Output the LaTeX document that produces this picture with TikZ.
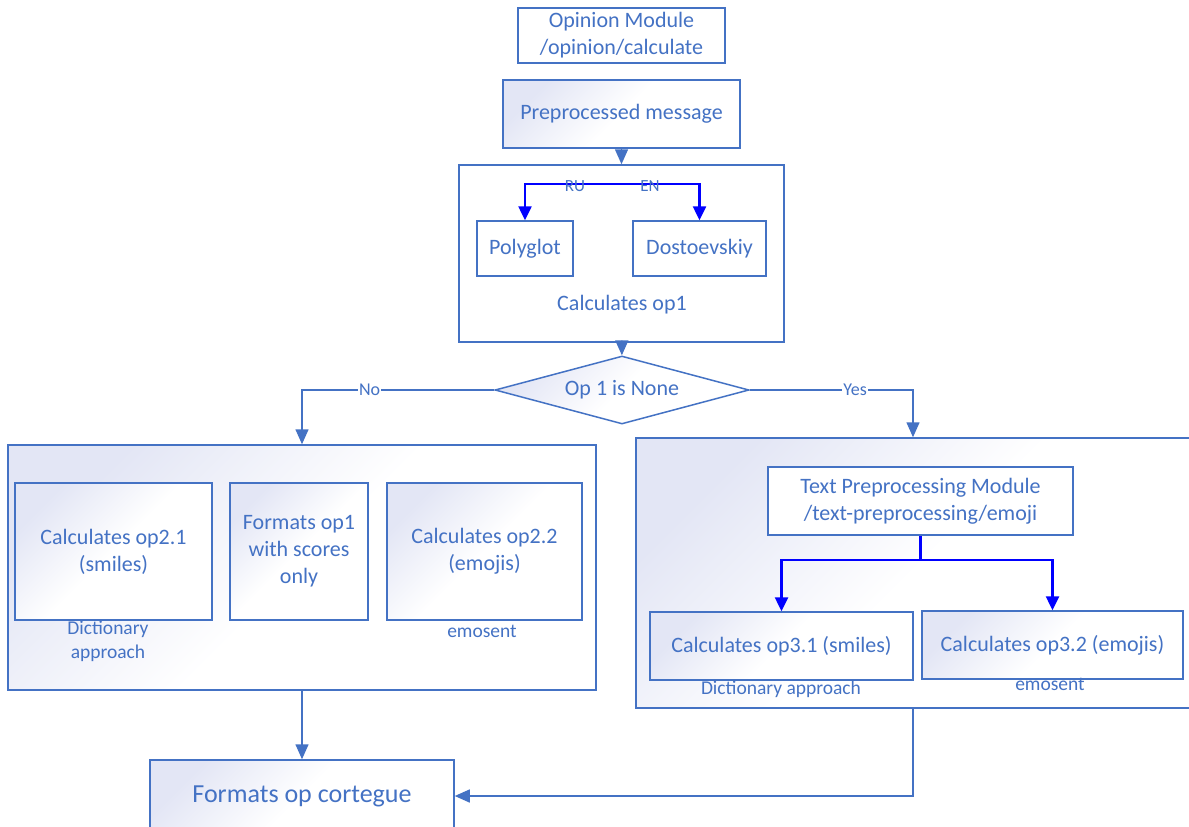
\documentclass[tikz,border=0pt]{standalone}
\usepackage{fontspec}
\setmainfont{Carlito}
\usetikzlibrary{shapes.geometric,arrows.meta}
\definecolor{boxblue}{HTML}{4472C4}
\definecolor{splitblue}{HTML}{0000FF}
\definecolor{lavender}{HTML}{E3E6F5}
\begin{document}
\begin{tikzpicture}[x=1pt,y=-1pt,
  every node/.style={text=boxblue,font=\fontsize{22}{27}\selectfont,align=center,inner sep=0pt},
  plainbox/.style={draw=boxblue,line width=1.5pt,fill=white},
  shadebox/.style={draw=boxblue,line width=1.5pt,top color=lavender,bottom color=white,middle color=white,shading angle=45},
  flow/.style={draw=boxblue,line width=1.5pt,-{Triangle[length=15pt,width=13pt]}},
  bflow/.style={draw=splitblue,line width=2.5pt,-{Triangle[length=14pt,width=13pt]}},
  lbl/.style={font=\fontsize{18}{20}\selectfont,fill=white,inner sep=1pt},
  note/.style={font=\fontsize{19.5}{24}\selectfont}]
  \clip (0,0) rectangle (1189,827);
  \fill[white] (0,0) rectangle (1189,827);
  % top of the chain
  \node[plainbox,minimum width=207,minimum height=55] (opmod) at (621.5,35.5) {Opinion Module\\/opinion/calculate};
  \node[shadebox,minimum width=237,minimum height=68] (prep) at (621.5,114) {Preprocessed message};
  \node[plainbox,minimum width=325,minimum height=177] (op1grp) at (621.5,253.5) {};
  \node[plainbox,minimum width=96,minimum height=55] (poly) at (525,248.5) {Polyglot};
  \node[plainbox,minimum width=133,minimum height=55] (dost) at (699.5,248.5) {Dostoevskiy};
  \node (op1txt) at (622,305) {Calculates op1};
  \coordinate (langsplit) at (613,184);
  \node[shadebox,diamond,aspect=3.7,minimum width=254,minimum height=68] (dec) at (622,390) {Op 1 is None};
  % left branch
  \node[shadebox,minimum width=588,minimum height=245] (lgrp) at (302,567.5) {};
  \node[shadebox,minimum width=197,minimum height=137] (op21) at (113.5,551.5) {Calculates op2.1\\(smiles)};
  \node[shadebox,minimum width=138,minimum height=137] (fmt1) at (299,551.5) {Formats op1\\with scores\\only};
  \node[shadebox,minimum width=195,minimum height=137] (op22) at (484.5,551.5) {Calculates op2.2\\(emojis)};
  \node[note] (dict1) at (108,641) {Dictionary\\approach};
  \node[note] (emo1) at (482,631) {emosent};
  % right branch
  \node[shadebox,minimum width=554,minimum height=270] (rgrp) at (913,573) {};
  \node[plainbox,minimum width=305,minimum height=68] (tpm) at (920.5,501) {Text Preprocessing Module\\/text-preprocessing/emoji};
  \coordinate (emosplit) at (920.5,560);
  \node[shadebox,minimum width=263,minimum height=68] (op31) at (781.5,646) {Calculates op3.1 (smiles)};
  \node[shadebox,minimum width=261,minimum height=68] (op32) at (1052.5,645) {Calculates op3.2 (emojis)};
  \node[note] (dict2) at (781,689) {Dictionary approach};
  \node[note] (emo2) at (1050,684) {emosent};
  % result
  \node[shadebox,minimum width=304,minimum height=72,font=\fontsize{26}{30}\selectfont] (tuple) at (302,796) {Formats op cortegue};
  % connectors
  \draw[flow] (prep) -- (op1grp);
  \draw[flow] (op1grp) -- (dec);
  \draw[bflow] (langsplit) -| (poly.north);
  \draw[bflow] (langsplit) -| (dost.north);
  \node[font=\fontsize{17}{20}\selectfont] at (575,186) {RU};
  \node[font=\fontsize{17}{20}\selectfont] at (650,186) {EN};
  \draw[flow] (dec.west) -| node[lbl,pos=0.324] {No} (lgrp.north);
  \draw[flow] (dec.east) -| node[lbl,pos=0.323] {Yes} (rgrp.north);
  \draw[draw=splitblue,line width=2.5pt] (tpm.south) -- (emosplit);
  \draw[bflow] (emosplit) -| (op31.north);
  \draw[bflow] (emosplit) -| (op32.north);
  \draw[flow] (lgrp.south) -- (tuple.north);
  \draw[flow] (rgrp.south) |- (tuple.east);
\end{tikzpicture}
\end{document}
